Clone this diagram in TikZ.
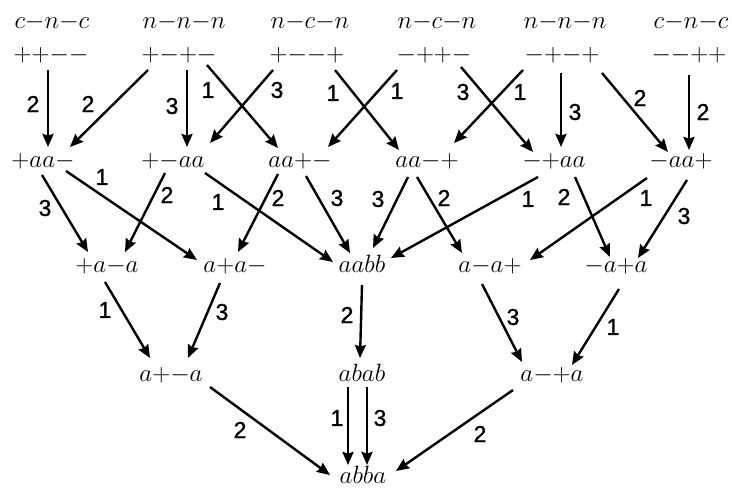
\RequirePackage{fix-cm}
\documentclass[tikz,border=0pt]{standalone}
\usepackage{fontspec}
\newfontfamily\labfont[FakeBold=1.2]{Liberation Sans}
\usetikzlibrary{arrows.meta}
\tikzset{
  nd/.style={anchor=base, inner sep=0pt, font=\fontsize{25}{25}\selectfont},
  lb/.style={inner sep=0pt, font=\labfont\fontsize{23}{23}\selectfont},
  arr/.style={line width=2.4pt, -{Stealth[length=13pt,width=11pt,inset=1.5pt]}},
}
\begin{document}
\begin{tikzpicture}[x=1pt,y=-1pt]
\useasboundingbox (0,0) rectangle (732,488);
% top labels
\node[nd] (L1) at (52,28) {$c{-}n{-}c$};
\node[nd] (L2) at (184,28) {$n{-}n{-}n$};
\node[nd] (L3) at (310,28) {$n{-}c{-}n$};
\node[nd] (L4) at (437,28) {$n{-}c{-}n$};
\node[nd] (L5) at (565,28) {$n{-}n{-}n$};
\node[nd] (L6) at (691,28) {$c{-}n{-}c$};
% row 1
\node[nd] (T1) at (51,61) {${+}{+}{-}{-}$};
\node[nd] (T2) at (179,61) {${+}{-}{+}{-}$};
\node[nd] (T3) at (307,61) {${+}{-}{-}{+}$};
\node[nd] (T4) at (434,61) {${-}{+}{+}{-}$};
\node[nd] (T5) at (562,61) {${-}{+}{-}{+}$};
\node[nd] (T6) at (689,61) {${-}{-}{+}{+}$};
% row 2
\node[nd] (S1) at (43,167) {${+}aa{-}$};
\node[nd] (S2) at (173,167) {${+}{-}aa$};
\node[nd] (S3) at (300,167) {$aa{+}{-}$};
\node[nd] (S4) at (427,167) {$aa{-}{+}$};
\node[nd] (S5) at (554,167) {${-}{+}aa$};
\node[nd] (S6) at (681,167) {${-}aa{+}$};
% row 3
\node[nd] (R1) at (107,272) {${+}a{-}a$};
\node[nd] (R2) at (235,272) {$a{+}a{-}$};
\node[nd] (R3) at (362,272) {$aabb$};
\node[nd] (R4) at (490,272) {$a{-}a{+}$};
\node[nd] (R5) at (616,272) {${-}a{+}a$};
% row 4
\node[nd] (Q1) at (171,381) {$a{+}{-}a$};
\node[nd] (Q2) at (362,381) {$abab$};
\node[nd] (Q3) at (552,381) {$a{-}{+}a$};
% bottom
\node[nd] (B) at (363,483) {$abba$};
% arrows row1 -> row2
\draw[arr] ([shift={(-3,9)}]T1.base) -- ([shift={(5,-20)}]S1.base);
\draw[arr] ([shift={(-31,9)}]T2.base) -- ([shift={(27,-20)}]S1.base);
\draw[arr] ([shift={(8,9)}]T2.base) -- ([shift={(14,-20)}]S2.base);
\draw[arr] ([shift={(28,4)}]T2.base) -- ([shift={(-22,-19)}]S3.base);
\draw[arr] ([shift={(-34,9)}]T3.base) -- ([shift={(37,-24)}]S2.base);
\draw[arr] ([shift={(28,9)}]T3.base) -- ([shift={(-28,-17)}]S4.base);
\draw[arr] ([shift={(-37,9)}]T4.base) -- ([shift={(28,-20)}]S3.base);
\draw[arr] ([shift={(27,6)}]T4.base) -- ([shift={(-21,-15)}]S5.base);
\draw[arr] ([shift={(-39,9)}]T5.base) -- ([shift={(27,-24)}]S4.base);
\draw[arr] ([shift={(-1,12)}]T5.base) -- ([shift={(7,-20)}]S5.base);
\draw[arr] ([shift={(40,12)}]T5.base) -- ([shift={(-13,-15)}]S6.base);
\draw[arr] ([shift={(0,14)}]T6.base) -- ([shift={(8,-17)}]S6.base);
% row2 -> row3
\draw[arr] ([shift={(-1,8)}]S1.base) -- ([shift={(-19,-20)}]R1.base);
\draw[arr] ([shift={(23,4)}]S1.base) -- ([shift={(-38,-12)}]R2.base);
\draw[arr] ([shift={(-8,6)}]S2.base) -- ([shift={(18,-20)}]R1.base);
\draw[arr] ([shift={(32,6)}]S2.base) -- ([shift={(-29,-10)}]R3.base);
\draw[arr] ([shift={(-22,7)}]S3.base) -- ([shift={(3,-20)}]R2.base);
\draw[arr] ([shift={(6,9)}]S3.base) -- ([shift={(-12,-19)}]R3.base);
\draw[arr] ([shift={(-19,10)}]S4.base) -- ([shift={(11,-24)}]R3.base);
\draw[arr] ([shift={(-10,10)}]S4.base) -- ([shift={(-28,-19)}]R4.base);
\draw[arr] ([shift={(-16,10)}]S5.base) -- ([shift={(29,-14)}]R3.base);
\draw[arr] ([shift={(21,10)}]S5.base) -- ([shift={(-6,-15)}]R5.base);
\draw[arr] ([shift={(-34,11)}]S6.base) -- ([shift={(40,-12)}]R4.base);
\draw[arr] ([shift={(6,13)}]S6.base) -- ([shift={(22,-14)}]R5.base);
% row3 -> row4
\draw[arr] ([shift={(-2,10)}]R1.base) -- ([shift={(-21,-23)}]Q1.base);
\draw[arr] ([shift={(-15,11)}]R2.base) -- ([shift={(17,-23)}]Q1.base);
\draw[arr] ([shift={(0,13)}]R3.base) -- ([shift={(-2,-23)}]Q2.base);
\draw[arr] ([shift={(-8,12)}]R4.base) -- ([shift={(-30,-19)}]Q3.base);
\draw[arr] ([shift={(3,17)}]R5.base) -- ([shift={(20,-16)}]Q3.base);
% row4 -> bottom
\draw[arr] ([shift={(39,6)}]Q1.base) -- ([shift={(-33,-8)}]B.base);
\draw[arr] ([shift={(-14,6)}]Q2.base) -- ([shift={(-15,-18)}]B.base);
\draw[arr] ([shift={(5,6)}]Q2.base) -- ([shift={(4,-18)}]B.base);
\draw[arr] ([shift={(-39,9)}]Q3.base) -- ([shift={(33,-12)}]B.base);
% edge labels
\node[lb] (e1) at (33,104) {2};
\node[lb] (e2) at (88,104) {2};
\node[lb] (e3) at (172,106) {3};
\node[lb] (e4) at (208,90) {1};
\node[lb] (e5) at (277,90) {3};
\node[lb] (e6) at (333,93) {1};
\node[lb] (e7) at (397,91) {1};
\node[lb] (e8) at (463,92) {3};
\node[lb] (e9) at (520,92) {1};
\node[lb] (e10) at (575,112) {3};
\node[lb] (e11) at (640,98) {2};
\node[lb] (e12) at (703,112) {2};
\node[lb] (e13) at (45,208) {3};
\node[lb] (e14) at (102,177) {1};
\node[lb] (e15) at (167,195) {2};
\node[lb] (e16) at (218,202) {1};
\node[lb] (e17) at (278,198) {2};
\node[lb] (e18) at (337,198) {3};
\node[lb] (e19) at (378,199) {3};
\node[lb] (e20) at (444,198) {2};
\node[lb] (e21) at (528,199) {1};
\node[lb] (e22) at (564,197) {2};
\node[lb] (e23) at (646,198) {1};
\node[lb] (e24) at (684,216) {3};
\node[lb] (e25) at (105,310) {1};
\node[lb] (e26) at (222,312) {3};
\node[lb] (e27) at (347,315) {2};
\node[lb] (e28) at (513,317) {3};
\node[lb] (e29) at (613,327) {1};
\node[lb] (e30) at (240,430) {2};
\node[lb] (e31) at (337,418) {1};
\node[lb] (e32) at (380,418) {3};
\node[lb] (e33) at (480,434) {2};
\end{tikzpicture}
\end{document}
